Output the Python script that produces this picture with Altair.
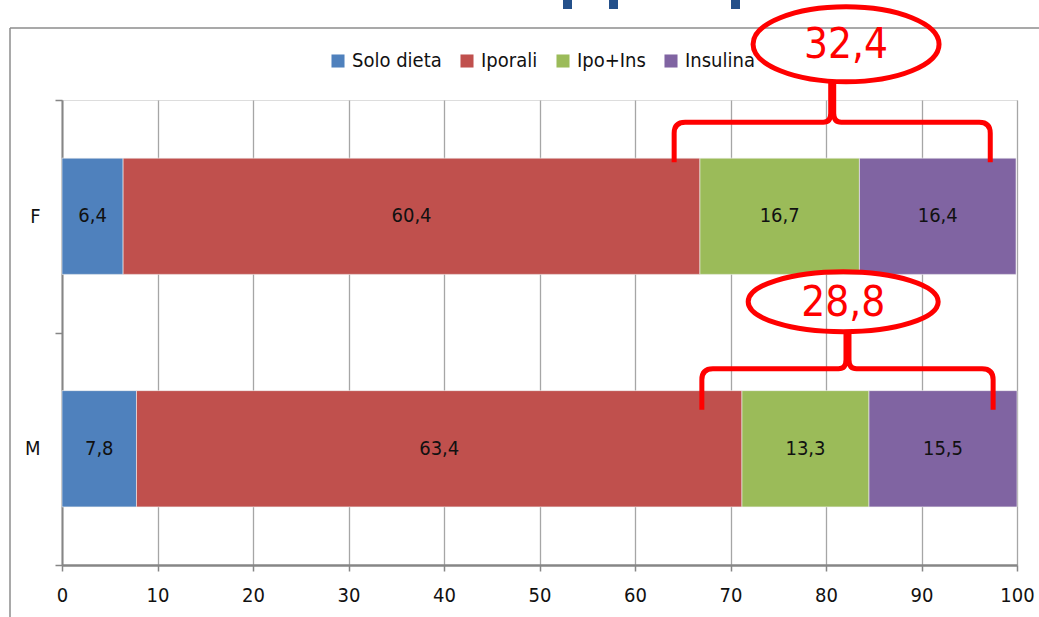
import altair as alt
import pandas as pd

# ---- data -------------------------------------------------------------
sexes = ["F", "M"]
therapies = ["Solo dieta", "Iporali", "Ipo+Ins", "Insulina"]
values_f = [6.4, 60.4, 16.7, 16.4]
values_m = [7.8, 63.4, 13.3, 15.5]
colors = ["#4F81BD", "#C0504D", "#9BBB59", "#8064A2"]
x_ticks = list(range(0, 101, 10))

# callouts: combined share of the insulin-based therapies
callout_sex = ["F", "M"]
callout_text = ["32,4", "28,8"]
callout_x = [82.1, 81.8]          # ellipse centre on the x scale
brace_from = [64.1, 67.0]         # brace extent on the x scale
brace_to = [97.2, 97.5]

FONT = "Liberation Sans Narrow, DejaVu Sans Condensed, sans-serif"
RED = "#FF0000"
W, H = 955, 465

rows = []
for sex, vals in zip(sexes, [values_f, values_m]):
    for i, (t, v) in enumerate(zip(therapies, vals)):
        rows.append({"sex": sex, "therapy": t, "value": v, "ord": i})
df = pd.DataFrame(rows)

y_enc = alt.Y(
    "sex:N",
    sort=sexes,
    scale=alt.Scale(domain=sexes, padding=0),
    axis=alt.Axis(
        title=None, labelFontSize=20, labelFont=FONT, labelColor="#111111",
        labelPadding=15, tickSize=7, tickColor="#868686", tickWidth=1.5,
        domainColor="#868686", domainWidth=2, grid=False, tickBand="extent",
    ),
)

base = alt.Chart(df).transform_stack(
    stack="value", groupby=["sex"], as_=["x0", "x1"],
    sort=[alt.SortField("ord", order="ascending")],
).transform_calculate(
    mid="(datum.x0 + datum.x1) / 2",
    label="replace(format(datum.value, '.1f'), '.', ',')",
)

x_scale = alt.Scale(domain=[0, 100], nice=False)

bars = base.mark_bar(
    stroke="#F2F2F2", strokeWidth=0.6, height={"band": 0.5}
).encode(
    x=alt.X(
        "x0:Q", scale=x_scale,
        axis=alt.Axis(
            title=None, values=x_ticks, labelFontSize=20, labelFont=FONT,
            labelColor="#111111", tickSize=6, tickColor="#868686",
            tickWidth=1.5, labelPadding=14, labelFlush=False,
            domainColor="#868686", domainWidth=2.5, grid=True,
            gridColor="#A6A6A6", gridWidth=1.3,
        ),
    ),
    x2="x1:Q",
    y=y_enc,
    color=alt.Color(
        "therapy:N",
        scale=alt.Scale(domain=therapies, range=colors),
        legend=alt.Legend(
            title=None, orient="none", direction="horizontal",
            legendX=266, legendY=-49, symbolType="square", symbolSize=170,
            symbolStrokeWidth=0, labelFontSize=20, labelFont=FONT,
            labelColor="#111111", labelOffset=4, columnPadding=15,
            padding=0,
        ),
    ),
    order=alt.Order("ord:Q"),
)

labels = base.mark_text(fontSize=20, font=FONT, color="#111111").encode(
    x=alt.X("mid:Q", scale=x_scale),
    y=alt.Y("sex:N", sort=sexes),
    text="label:N",
)

layers = [bars, labels]


def ellipse_path(rx, ry):
    k = 0.5523
    return (
        f"M {-rx} 0 C {-rx} {-k*ry} {-k*rx} {-ry} 0 {-ry} "
        f"C {k*rx} {-ry} {rx} {-k*ry} {rx} 0 "
        f"C {rx} {k*ry} {k*rx} {ry} 0 {ry} "
        f"C {-k*rx} {ry} {-rx} {k*ry} {-rx} 0 Z"
    )


def brace_path(half, drop, rise, r=11):
    return (
        f"M {-half} {drop} L {-half} {r} Q {-half} 0 {-half + r} 0 "
        f"L -9 0 Q -1.5 0 -1.5 -9 L -1.5 {-rise} "
        f"M 1.5 {-rise} L 1.5 -9 Q 1.5 0 9 0 "
        f"L {half - r} 0 Q {half} 0 {half} {r} L {half} {drop}"
    )


# pixel geometry of each callout relative to its bar's band centre
brace_dy = [-94, -80]
brace_drop = [40, 41]
brace_rise = [40, 36]
ellipse_dy = [-172, -147]
ellipse_w = [186, 190]
ellipse_h = [75, 60]

for i, sex in enumerate(callout_sex):
    cdf = pd.DataFrame({
        "sex": [sex],
        "cx": [callout_x[i]],
        "bx": [(brace_from[i] + brace_to[i]) / 2],
        "txt": [callout_text[i]],
    })
    half_px = (brace_to[i] - brace_from[i]) / 2 * W / 100
    c = alt.Chart(cdf)
    layers.append(
        c.mark_point(
            shape=brace_path(half_px, brace_drop[i], brace_rise[i]),
            size=4, filled=False, stroke=RED, strokeWidth=5, opacity=1,
            strokeJoin="round", yOffset=brace_dy[i],
        ).encode(x=alt.X("bx:Q", scale=x_scale), y=alt.Y("sex:N", sort=sexes))
    )
    layers.append(
        c.mark_point(
            shape=ellipse_path(ellipse_w[i] / 2, ellipse_h[i] / 2),
            size=4, filled=False, stroke=RED, strokeWidth=5, opacity=1,
            yOffset=ellipse_dy[i],
        ).encode(x=alt.X("cx:Q", scale=x_scale), y=alt.Y("sex:N", sort=sexes))
    )
    layers.append(
        c.mark_text(
            fontSize=42, font=FONT, color=RED, yOffset=ellipse_dy[i] + 1,
        ).encode(
            x=alt.X("cx:Q", scale=x_scale), y=alt.Y("sex:N", sort=sexes),
            text="txt:N",
        )
    )

one = pd.DataFrame({"k": [0]})

# outer frame of the chart area (top and left edges)
frame_top = alt.Chart(one).mark_rule(color="#8C8C8C", strokeWidth=1.5).encode(
    x=alt.value(-52), x2=alt.value(W + 40), y=alt.value(-72)
)
frame_left = alt.Chart(one).mark_rule(color="#8C8C8C", strokeWidth=1.5).encode(
    x=alt.value(-52), y=alt.value(-72), y2=alt.value(H + 60)
)

# stems of the slide heading's letters, cut by the top edge of the page
stem_left = [501, 547, 669]
stems = [
    alt.Chart(one).mark_rect(color="#24508A").encode(
        x=alt.value(sx), x2=alt.value(sx + 9),
        y=alt.value(-100), y2=alt.value(-91),
    )
    for sx in stem_left
]

chart = alt.layer(frame_top, frame_left, *stems, *layers).properties(
    width=W, height=H,
    autosize=alt.AutoSizeParams(type="none"),
    padding={"left": 62, "top": 100, "right": 22, "bottom": 52},
).configure_view(stroke=None).configure(font=FONT, background="white")

chart.save("out.html", embed_options={"renderer": "svg", "actions": False})
